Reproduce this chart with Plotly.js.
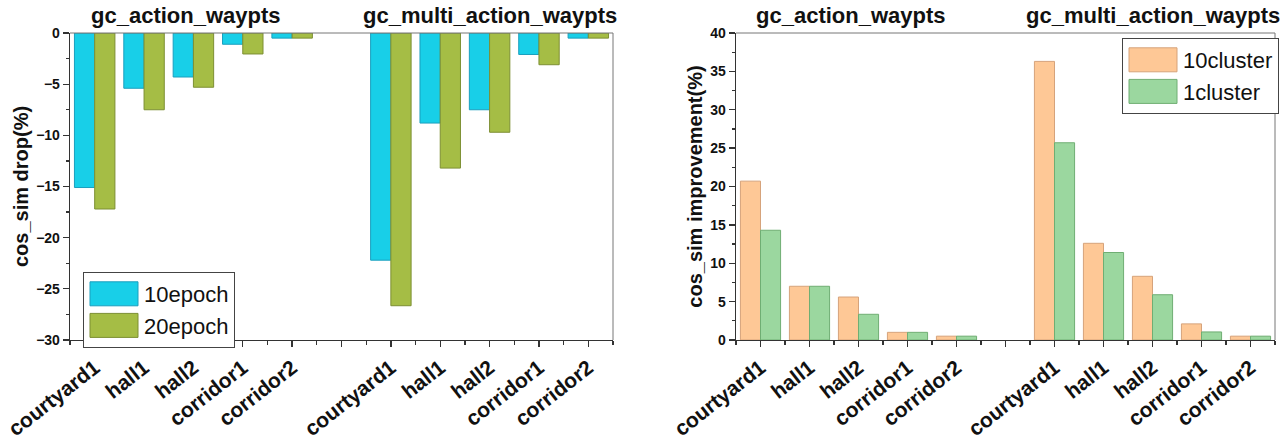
<!DOCTYPE html>
<html>
<head>
<meta charset="utf-8">
<script src="https://cdn.plot.ly/plotly-3.0.1.min.js"></script>
<style>
  html, body { margin: 0; padding: 0; background: #fff; }
  #chart { width: 1280px; height: 443px; }
</style>
</head>
<body>
<div id="chart"></div>
<script>
// ── data ────────────────────────────────────────────────
const SCENES = ['courtyard1', 'hall1', 'hall2', 'corridor1', 'corridor2'];
const GROUPS = ['gc_action_waypts', 'gc_multi_action_waypts'];

// left panel: cos_sim drop (%)
const DROP_10EPOCH_ACTION = [-15.1, -5.4, -4.3, -1.1, -0.5];
const DROP_10EPOCH_MULTI  = [-22.2, -8.8, -7.5, -2.1, -0.5];
const DROP_20EPOCH_ACTION = [-17.2, -7.5, -5.3, -2.05, -0.5];
const DROP_20EPOCH_MULTI  = [-26.65, -13.2, -9.7, -3.1, -0.5];

// right panel: cos_sim improvement (%)
const IMP_10CLUSTER_ACTION = [20.7, 7.0, 5.6, 1.0, 0.5];
const IMP_10CLUSTER_MULTI  = [36.3, 12.6, 8.3, 2.1, 0.5];
const IMP_1CLUSTER_ACTION  = [14.3, 7.0, 3.35, 1.0, 0.5];
const IMP_1CLUSTER_MULTI   = [25.7, 11.4, 5.9, 1.05, 0.5];

// ── helpers ─────────────────────────────────────────────
const FONT = 'Arial, "Liberation Sans", sans-serif';
const INK = '#111';
const GAP_SLOT = SCENES.length;                 // empty category between the two groups
const xPos = [...SCENES.map((_, i) => i), ...SCENES.map((_, i) => i + GAP_SLOT + 1)];
const tickText = [...SCENES, '', ...SCENES];
const tickVals = tickText.map((_, i) => i);

function bar(name, vals, fill, edge, xa, ya, legend) {
  return {
    type: 'bar', name, x: xPos, y: vals, xaxis: xa, yaxis: ya, legend,
    marker: { color: fill, line: { color: edge, width: 1 } },
    hovertemplate: '%{y}<extra>' + name + '</extra>',
  };
}

function xAxis(domain, anchor) {
  return {
    domain, anchor, range: [-0.5, tickText.length - 0.5],
    tickmode: 'array', tickvals: tickVals, ticktext: tickText, tickangle: -38,
    ticklabeloverflow: 'allow',
    ticks: 'outside', ticklen: 6, tickwidth: 1.3, tickcolor: '#333',
    minor: { tickmode: 'linear', tick0: 0.5, dtick: 1, ticks: 'outside', ticklen: 4, tickcolor: '#333' },
    showline: true, linecolor: '#333', linewidth: 1.3, showgrid: false, zeroline: false,
    tickfont: { family: FONT, size: 21, color: INK, weight: 'bold' },
  };
}

function yAxis(domain, anchor, range, title) {
  return {
    domain, anchor, range, dtick: 5,
    ticks: 'outside', ticklen: 6, tickwidth: 1.3, tickcolor: '#333',
    minor: { dtick: 2.5, ticks: 'outside', ticklen: 3, tickcolor: '#333' },
    showline: true, linecolor: '#333', linewidth: 1.3, showgrid: false, zeroline: false,
    tickfont: { family: FONT, size: 14, color: INK, weight: 'bold' },
    title: { text: title, standoff: 2, font: { family: FONT, size: 20, color: INK, weight: 'bold' } },
  };
}

function frame(xa, ya) {
  const line = { color: '#777', width: 1 };
  return [
    { type: 'line', xref: xa + ' domain', yref: ya + ' domain', x0: 0, x1: 1, y0: 1, y1: 1, line },
    { type: 'line', xref: xa + ' domain', yref: ya + ' domain', x0: 1, x1: 1, y0: 0, y1: 1, line },
  ];
}

function groupTitles(xa) {
  const centers = [(SCENES.length - 1) / 2 - 0.15, GAP_SLOT + 1 + (SCENES.length - 1) / 2];
  return GROUPS.map((g, i) => ({
    text: g, xref: xa, x: centers[i], yref: 'paper', y: 0.966, yanchor: 'middle',
    showarrow: false, font: { family: FONT, size: 22, color: INK, weight: 'bold' },
  }));
}

const traces = [
  bar('10epoch', [...DROP_10EPOCH_ACTION, ...DROP_10EPOCH_MULTI],
      '#18cfe8', '#1a9fbe', 'x', 'y', 'legend'),
  bar('20epoch', [...DROP_20EPOCH_ACTION, ...DROP_20EPOCH_MULTI],
      '#a5bd45', '#7d8f33', 'x', 'y', 'legend'),
  bar('10cluster', [...IMP_10CLUSTER_ACTION, ...IMP_10CLUSTER_MULTI],
      '#fec896', '#d6a37b', 'x2', 'y2', 'legend2'),
  bar('1cluster', [...IMP_1CLUSTER_ACTION, ...IMP_1CLUSTER_MULTI],
      '#9bd79f', '#6fae73', 'x2', 'y2', 'legend2'),
];

const yDom = [1 - 340 / 443, 1 - 33 / 443];
const legendStyle = {
  xanchor: 'left', yanchor: 'top', bgcolor: '#fff', bordercolor: '#444', borderwidth: 1,
  itemwidth: 50, tracegroupgap: 0,
  font: { family: FONT, size: 22, color: INK },
};

const layout = {
  width: 1280, height: 443,
  margin: { t: 0, r: 0, b: 0, l: 0 },
  paper_bgcolor: '#fff', plot_bgcolor: '#fff',
  barmode: 'group', bargap: 0.18, bargroupgap: 0,
  xaxis: xAxis([70 / 1280, 613 / 1280], 'y'),
  yaxis: yAxis(yDom, 'x', [-30, 0], 'cos_sim drop(%)'),
  xaxis2: xAxis([736 / 1280, 1275 / 1280], 'y2'),
  yaxis2: yAxis(yDom, 'x2', [0, 40], 'cos_sim improvement(%)'),
  legend:  { ...legendStyle, x: 83 / 1280,   y: 1 - 272 / 443 },
  legend2: { ...legendStyle, x: 1122 / 1280, y: 1 - 38 / 443 },
  shapes: [...frame('x', 'y'), ...frame('x2', 'y2')],
  annotations: [...groupTitles('x'), ...groupTitles('x2')],
  showlegend: true,
};

Plotly.newPlot('chart', traces, layout, { displayModeBar: false, staticPlot: true }).then(() => {
  // wide legend swatches like the original figure
  document.querySelectorAll('.legendpoints path').forEach(p => p.setAttribute('d', 'M24,12H-24V-12H24Z'));
});
</script>
</body>
</html>
